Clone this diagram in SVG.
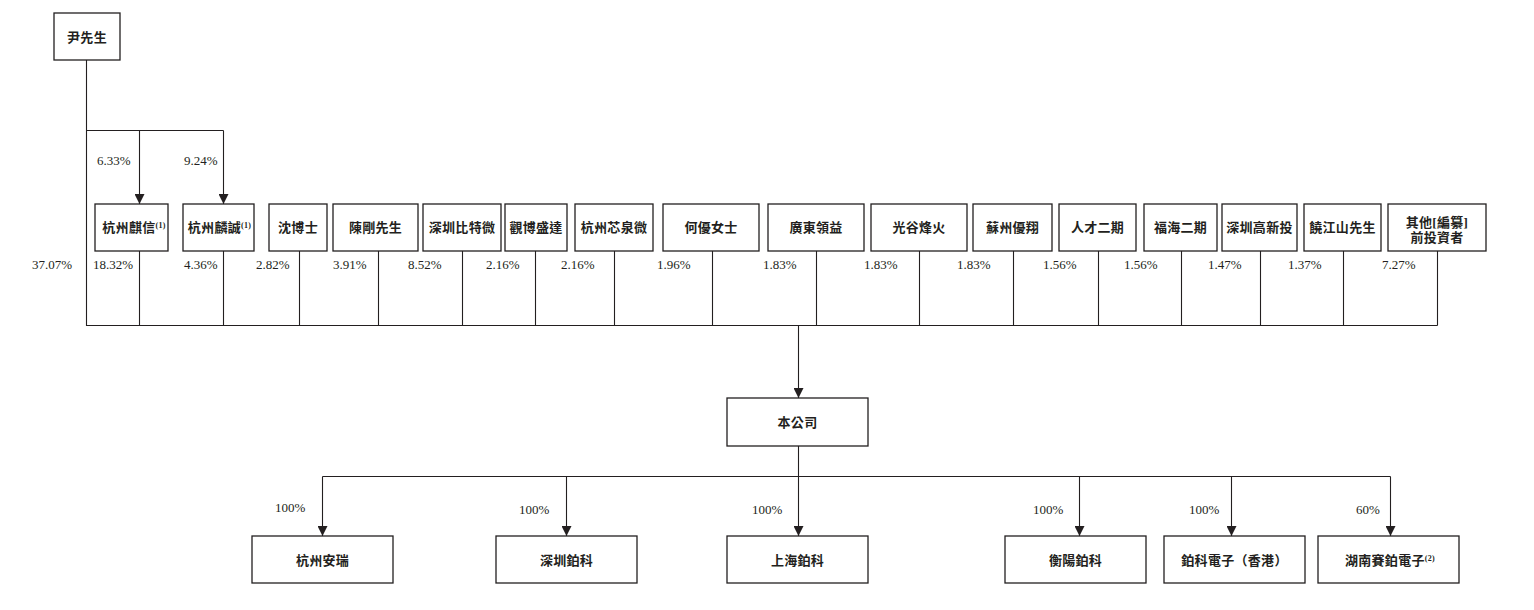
<svg xmlns="http://www.w3.org/2000/svg" width="1534" height="610" viewBox="0 0 1534 610">
<style>
.box{fill:#fff;stroke:#231f20;stroke-width:1.3}
.lbl{font-family:"Liberation Serif","Noto Sans CJK TC",serif;font-size:13px;font-weight:bold;fill:#231f20;text-anchor:middle;letter-spacing:0.3px}
.pct{font-family:"Liberation Serif",serif;font-size:13px;fill:#231f20}
.sup{font-size:8px}
.ln{fill:none;stroke:#231f20;stroke-width:1.1}
</style>
<defs>
<marker id="arr" viewBox="0 0 10 10" refX="10" refY="5" markerWidth="10" markerHeight="10" markerUnits="userSpaceOnUse" orient="auto">
<path d="M0,0 L10,5 L0,10 Z" fill="#231f20"/>
</marker>
</defs>

<g id="connectors">
<path class="ln" d="M86.5,60 V325.5 H1437.5"/>
<path class="ln" d="M86.5,130.5 H223.5"/>
<path class="ln" d="M139.5,130.5 V204" marker-end="url(#arr)"/>
<path class="ln" d="M223.5,130.5 V204" marker-end="url(#arr)"/>
<path class="ln" d="M139.5,251 V325.5"/>
<path class="ln" d="M223.5,251 V325.5"/>
<path class="ln" d="M299.5,251 V325.5"/>
<path class="ln" d="M378.5,251 V325.5"/>
<path class="ln" d="M462.5,251 V325.5"/>
<path class="ln" d="M535.5,251 V325.5"/>
<path class="ln" d="M614.5,251 V325.5"/>
<path class="ln" d="M712.5,251 V325.5"/>
<path class="ln" d="M816.5,251 V325.5"/>
<path class="ln" d="M919.5,251 V325.5"/>
<path class="ln" d="M1013.5,251 V325.5"/>
<path class="ln" d="M1098.5,251 V325.5"/>
<path class="ln" d="M1181.5,251 V325.5"/>
<path class="ln" d="M1260.5,251 V325.5"/>
<path class="ln" d="M1343.5,251 V325.5"/>
<path class="ln" d="M1437.5,251 V325.5"/>
<path class="ln" d="M798.5,325.5 V398" marker-end="url(#arr)"/>
<path class="ln" d="M798.5,446 V476.5"/>
<path class="ln" d="M322.5,476.5 H1390.5"/>
<path class="ln" d="M322.5,476.5 V536" marker-end="url(#arr)"/>
<path class="ln" d="M566.5,476.5 V536" marker-end="url(#arr)"/>
<path class="ln" d="M798.5,476.5 V536" marker-end="url(#arr)"/>
<path class="ln" d="M1079.5,476.5 V536" marker-end="url(#arr)"/>
<path class="ln" d="M1231.5,476.5 V536" marker-end="url(#arr)"/>
<path class="ln" d="M1390.5,476.5 V536" marker-end="url(#arr)"/>
</g>

<g id="pct-labels">
<text class="pct" x="97" y="164.5">6.33%</text>
<text class="pct" x="184" y="164.5">9.24%</text>
<text class="pct" x="32" y="268.5">37.07%</text>
<text class="pct" x="93" y="268.5">18.32%</text>
<text class="pct" x="184" y="268.5">4.36%</text>
<text class="pct" x="256" y="268.5">2.82%</text>
<text class="pct" x="333" y="268.5">3.91%</text>
<text class="pct" x="408" y="268.5">8.52%</text>
<text class="pct" x="486" y="268.5">2.16%</text>
<text class="pct" x="561" y="268.5">2.16%</text>
<text class="pct" x="657" y="268.5">1.96%</text>
<text class="pct" x="763" y="268.5">1.83%</text>
<text class="pct" x="864" y="268.5">1.83%</text>
<text class="pct" x="957" y="268.5">1.83%</text>
<text class="pct" x="1043" y="268.5">1.56%</text>
<text class="pct" x="1124" y="268.5">1.56%</text>
<text class="pct" x="1208" y="268.5">1.47%</text>
<text class="pct" x="1288" y="268.5">1.37%</text>
<text class="pct" x="1382" y="268.5">7.27%</text>
<text class="pct" x="275" y="511.5">100%</text>
<text class="pct" x="519" y="513.5">100%</text>
<text class="pct" x="752" y="513.5">100%</text>
<text class="pct" x="1033" y="514">100%</text>
<text class="pct" x="1189" y="514">100%</text>
<text class="pct" x="1356" y="514">60%</text>
</g>

<g id="n-yin"><rect class="box" x="54" y="13" width="66" height="47"/><text class="lbl" x="87" y="41.5">尹先生</text></g>

<g id="n-qixin"><rect class="box" x="95" y="204" width="73" height="47"/><text class="lbl" x="134" y="232">杭州麒信<tspan class="sup" dy="-4">(1)</tspan></text></g>
<g id="n-lincheng"><rect class="box" x="183" y="204" width="71" height="47"/><text class="lbl" x="219.5" y="232">杭州麟誠<tspan class="sup" dy="-4">(1)</tspan></text></g>
<g id="n-shen"><rect class="box" x="269" y="204" width="58" height="47"/><text class="lbl" x="298" y="232">沈博士</text></g>
<g id="n-chen"><rect class="box" x="333" y="204" width="85" height="47"/><text class="lbl" x="375.5" y="232">陳剛先生</text></g>
<g id="n-bitmain"><rect class="box" x="423" y="204" width="78" height="47"/><text class="lbl" x="462" y="232">深圳比特微</text></g>
<g id="n-guanbo"><rect class="box" x="505" y="204" width="62" height="47"/><text class="lbl" x="536" y="232">觀博盛達</text></g>
<g id="n-xinquan"><rect class="box" x="575" y="204" width="78" height="47"/><text class="lbl" x="614" y="232">杭州芯泉微</text></g>
<g id="n-he"><rect class="box" x="663" y="204" width="96" height="47"/><text class="lbl" x="711" y="232">何優女士</text></g>
<g id="n-lingyi"><rect class="box" x="768" y="204" width="96" height="47"/><text class="lbl" x="816" y="232">廣東領益</text></g>
<g id="n-guanggu"><rect class="box" x="871" y="204" width="96" height="47"/><text class="lbl" x="919" y="232">光谷烽火</text></g>
<g id="n-youxiang"><rect class="box" x="973" y="204" width="79" height="47"/><text class="lbl" x="1012.5" y="232">蘇州優翔</text></g>
<g id="n-rencai"><rect class="box" x="1059" y="204" width="77" height="47"/><text class="lbl" x="1097.5" y="232">人才二期</text></g>
<g id="n-fuhai"><rect class="box" x="1144" y="204" width="73" height="47"/><text class="lbl" x="1180.5" y="232">福海二期</text></g>
<g id="n-gaoxin"><rect class="box" x="1222" y="204" width="75" height="47"/><text class="lbl" x="1259.5" y="232">深圳高新投</text></g>
<g id="n-rao"><rect class="box" x="1304" y="204" width="77" height="47"/><text class="lbl" x="1342.5" y="232">饒江山先生</text></g>
<g id="n-others"><rect class="box" x="1388" y="204" width="98" height="47"/><text class="lbl" x="1437" y="226.5">其他[編纂]</text><text class="lbl" x="1437" y="242">前投資者</text></g>

<g id="n-company"><rect class="box" x="727" y="398" width="141" height="48"/><text class="lbl" x="797.5" y="427">本公司</text></g>

<g id="n-anrui"><rect class="box" x="252" y="536" width="141" height="47"/><text class="lbl" x="322.5" y="564.5">杭州安瑞</text></g>
<g id="n-szboke"><rect class="box" x="496" y="536" width="141" height="47"/><text class="lbl" x="566.5" y="564.5">深圳鉑科</text></g>
<g id="n-shboke"><rect class="box" x="727" y="536" width="141" height="47"/><text class="lbl" x="797.5" y="564.5">上海鉑科</text></g>
<g id="n-hyboke"><rect class="box" x="1005" y="536" width="141" height="47"/><text class="lbl" x="1075.5" y="564.5">衡陽鉑科</text></g>
<g id="n-hk"><rect class="box" x="1164" y="536" width="141" height="47"/><text class="lbl" x="1234.5" y="564.5">鉑科電子（香港）</text></g>
<g id="n-hunan"><rect class="box" x="1318" y="536" width="141" height="47"/><text class="lbl" x="1390" y="564.5">湖南賽鉑電子<tspan class="sup" dy="-4">(2)</tspan></text></g>
</svg>
